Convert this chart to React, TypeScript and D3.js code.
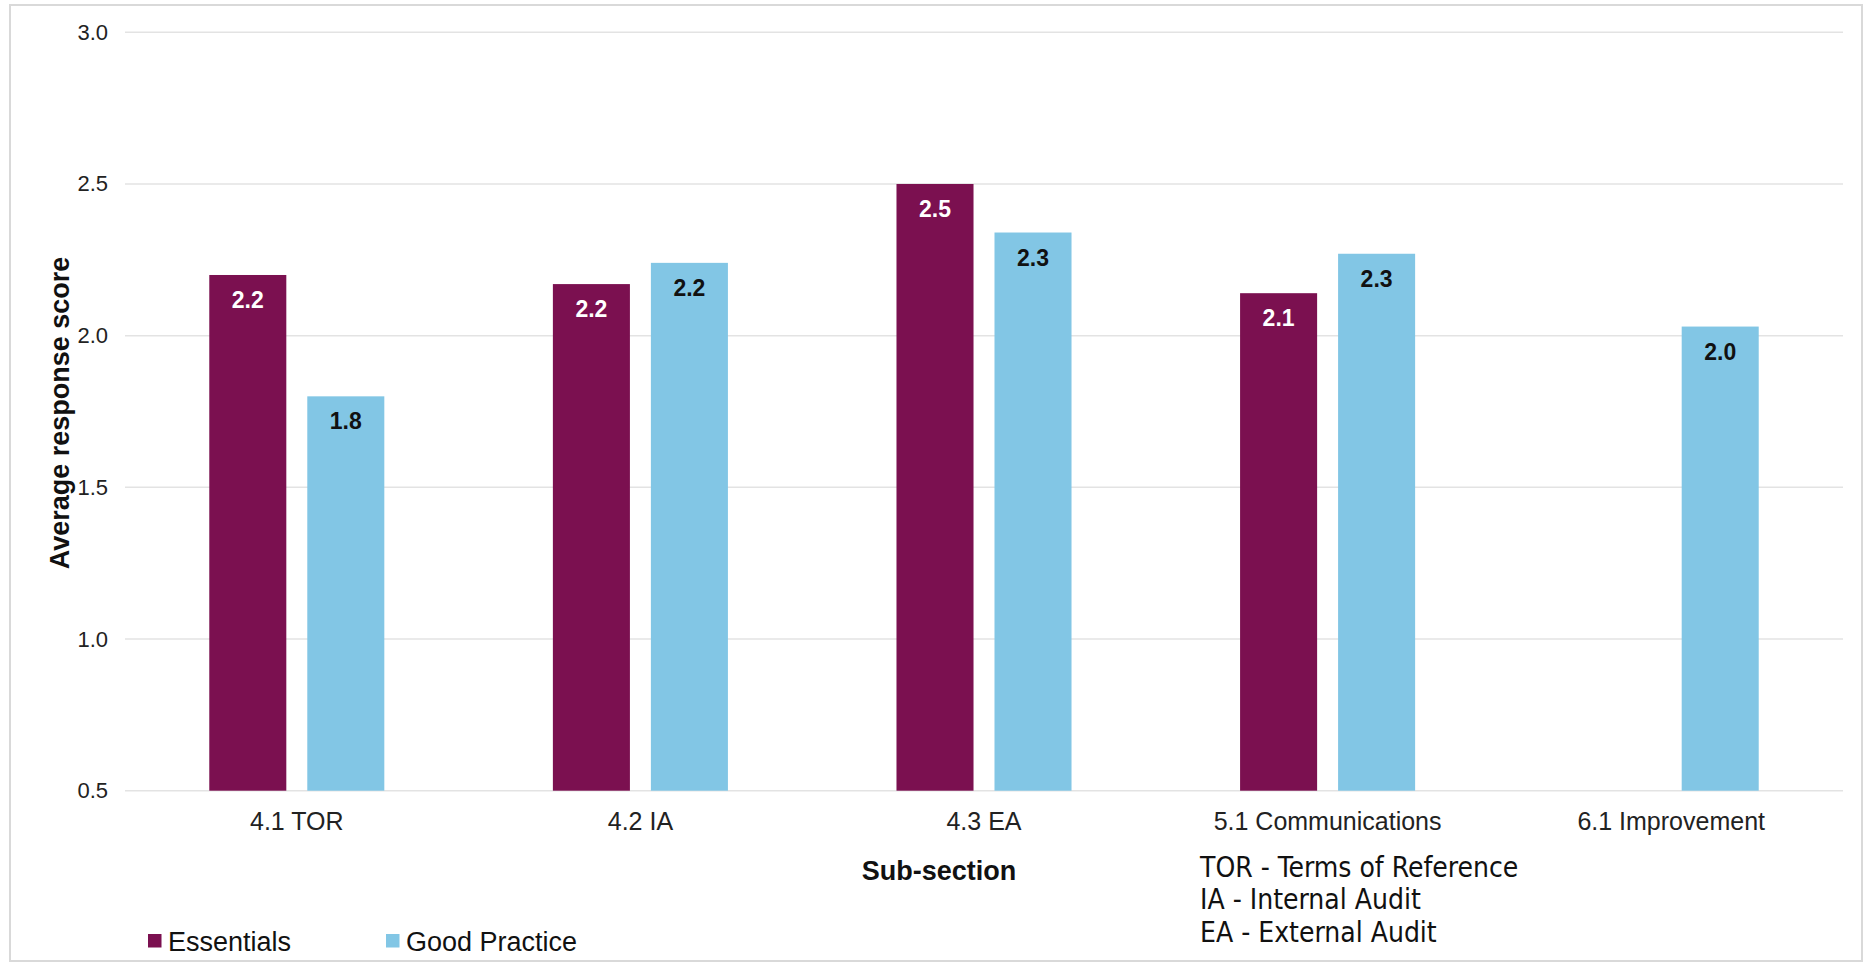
import React from 'react';
import * as d3 from 'd3';

// Sub-sections on the x axis
const categories = ['4.1 TOR', '4.2 IA', '4.3 EA', '5.1 Communications', '6.1 Improvement'];
const seriesNames = ['Essentials', 'Good Practice'];
// Average response scores (6.1 has no Essentials bar)
const essentials: (number | null)[] = [2.2, 2.17, 2.5, 2.14, null];
const goodPractice: (number | null)[] = [1.8, 2.24, 2.34, 2.27, 2.03];
const yTicks = [0.5, 1.0, 1.5, 2.0, 2.5, 3.0];
const notes = ['TOR - Terms of Reference', 'IA - Internal Audit', 'EA - External Audit'];

const W = 1868;
const H = 963;
const colors = ['#7b1050', '#82c6e5'];
const labelColors = ['#ffffff', '#111111'];
const FONT = '"Liberation Sans", Arial, Helvetica, sans-serif';

const App: React.FC = () => {
  const plot = { left: 125, right: 1843, top: 32.3, bottom: 790.7 };

  const x0 = d3.scaleBand<string>().domain(categories).range([plot.left, plot.right]);
  const x1 = d3
    .scaleBand<string>()
    .domain(seriesNames)
    .range([0, x0.bandwidth()])
    .paddingInner(0.214)
    .paddingOuter(0.86);
  const y = d3.scaleLinear().domain([0.5, 3.0]).range([plot.bottom, plot.top]);
  const fmt = d3.format('.1f');

  const series = [essentials, goodPractice];

  return (
    <svg
      width={W}
      height={H}
      style={{ position: 'absolute', left: 0, top: 0, background: '#fff' }}
      fontFamily={FONT}
    >
      <rect x={10} y={5} width={1852} height={956} fill="#fff" stroke="#d9d9d9" strokeWidth={2} />

      {/* grid + y ticks */}
      {yTicks.map(t => (
        <g key={t}>
          <line x1={plot.left} x2={plot.right} y1={y(t)} y2={y(t)} stroke="#e3e3e3" strokeWidth={1.5} />
          <text x={108} y={y(t)} textAnchor="end" dominantBaseline="central" fontSize={22} fill="#222">
            {fmt(t)}
          </text>
        </g>
      ))}

      {/* bars */}
      {series.map((vals, si) =>
        vals.map((v, ci) => {
          if (v == null) return null;
          const bx = (x0(categories[ci]) || 0) + (x1(seriesNames[si]) || 0);
          const bw = x1.bandwidth();
          return (
            <g key={`${si}-${ci}`}>
              <rect x={bx} y={y(v)} width={bw} height={y(0.5) - y(v)} fill={colors[si]} />
              <text
                x={bx + bw / 2}
                y={y(v) + 25}
                textAnchor="middle"
                dominantBaseline="central"
                fontSize={23}
                fontWeight="bold"
                fill={labelColors[si]}
              >
                {fmt(v)}
              </text>
            </g>
          );
        })
      )}

      {/* category labels */}
      {categories.map(c => (
        <text key={c} x={(x0(c) || 0) + x0.bandwidth() / 2} y={830} textAnchor="middle" fontSize={25} fill="#222">
          {c}
        </text>
      ))}

      {/* axis titles */}
      <text x={939} y={880} textAnchor="middle" fontSize={27} fontWeight="bold" fill="#111">
        Sub-section
      </text>
      <text
        transform={`translate(60,413) rotate(-90)`}
        textAnchor="middle"
        dominantBaseline="central"
        fontSize={27}
        fontWeight="bold"
        fill="#111"
      >
        Average response score
      </text>

      {/* abbreviation notes */}
      {notes.map((n, i) => (
        <text key={n} x={1200} y={876.7 + i * 32.5} fontSize={28} fill="#111" fontFamily='"DejaVu Sans Condensed", "DejaVu Sans", sans-serif'>
          {n}
        </text>
      ))}

      {/* legend */}
      {seriesNames.map((s, i) => {
        const lx = [148, 386][i];
        return (
          <g key={s}>
            <rect x={lx} y={934} width={13.5} height={13.5} fill={colors[i]} />
            <text x={lx + 20} y={950.7} fontSize={27} fill="#111">
              {s}
            </text>
          </g>
        );
      })}
    </svg>
  );
};

export default App;
